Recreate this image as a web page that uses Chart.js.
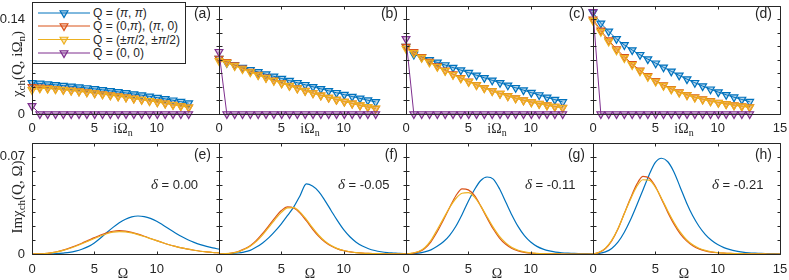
<!DOCTYPE html>
<html>
<head>
<meta charset="utf-8">
<script src="https://cdn.jsdelivr.net/npm/chart.js@4.4.1/dist/chart.umd.min.js"></script>
<style>
  html, body { margin: 0; padding: 0; background: #fff; }
  #wrap { position: relative; width: 789px; height: 280px; overflow: hidden; font-family: "Liberation Sans", Arial, sans-serif; color: #262626; }
  #wrap canvas { position: absolute; }
  .tag { position: absolute; width: 40px; text-align: right; font-size: 14px; line-height: 16px; }
  .delta { position: absolute; font-size: 13px; line-height: 16px; white-space: nowrap; }
  .delta i { font-family: "Liberation Serif", serif; font-size: 15px; }
  .ttl { position: absolute; font-family: "Liberation Serif", "DejaVu Serif", serif; font-size: 14px; line-height: 16px; white-space: nowrap; transform: translate(-50%, -50%); }
  .ttl.rot { font-size: 15px; transform: translate(-50%, -50%) rotate(-90deg); }
  .ttl sub { font-size: 10px; vertical-align: -3px; line-height: 0; }
  .ttl.rot sub { font-size: 11px; }
  #legend { position: absolute; left: 32px; top: 2px; width: 152px; height: 60px; border: 1px solid #262626; background: #fff; }
  #legend svg { position: absolute; left: 0; top: 0; }
  #legend .row { position: absolute; left: 60px; font-size: 12px; line-height: 14px; white-space: nowrap; }
</style>
</head>
<body>
<div id="wrap"></div>
<script>
// Matsubara frequencies i*Omega_n (n = 0..20)
const freqN = [0, 0.628, 1.257, 1.885, 2.513, 3.142, 3.770, 4.398, 5.027, 5.655, 6.283,
               6.912, 7.540, 8.168, 8.796, 9.425, 10.053, 10.681, 11.310, 11.938, 12.566];
// real frequency grid Omega
const omega = [0, 0.5, 1, 1.5, 2, 2.5, 3, 3.5, 4, 4.5, 5, 5.5, 6, 6.5, 7, 7.5, 8, 8.5, 9, 9.5,
               10, 10.5, 11, 11.5, 12, 12.5, 13, 13.5, 14, 14.5, 15];

// top row: chi_ch(Q, iOmega_n)
const chiA_pipi = [0.0460,0.0451,0.0441,0.0431,0.0420,0.0409,0.0397,0.0384,0.0371,0.0357,0.0342,0.0327,0.0311,0.0295,0.0278,0.0260,0.0242,0.0223,0.0203,0.0182,0.0160];
const chiA_0pi  = [0.0400,0.0392,0.0383,0.0373,0.0362,0.0350,0.0337,0.0324,0.0310,0.0295,0.0280,0.0264,0.0248,0.0231,0.0214,0.0196,0.0178,0.0159,0.0140,0.0120,0.0100];
const chiA_half = [0.0355,0.0378,0.0375,0.0367,0.0357,0.0346,0.0334,0.0321,0.0307,0.0292,0.0277,0.0261,0.0245,0.0228,0.0211,0.0193,0.0175,0.0156,0.0137,0.0117,0.0097];
const chiA_00   = [0.0120,0,0,0,0,0,0,0,0,0,0,0,0,0,0,0,0,0,0,0,0];

const chiB_pipi = [0.0820,0.0755,0.0721,0.0687,0.0654,0.0621,0.0588,0.0556,0.0524,0.0493,0.0462,0.0432,0.0402,0.0372,0.0343,0.0314,0.0286,0.0258,0.0231,0.0204,0.0178];
const chiB_0pi  = [0.0820,0.0770,0.0721,0.0674,0.0628,0.0583,0.0540,0.0498,0.0458,0.0419,0.0381,0.0345,0.0310,0.0276,0.0244,0.0213,0.0184,0.0156,0.0129,0.0104,0.0080];
const chiB_half = [0.0785,0.0758,0.0710,0.0664,0.0619,0.0575,0.0533,0.0492,0.0453,0.0415,0.0378,0.0342,0.0308,0.0275,0.0243,0.0213,0.0184,0.0157,0.0131,0.0106,0.0083];
const chiB_00   = [0.0920,0,0,0,0,0,0,0,0,0,0,0,0,0,0,0,0,0,0,0,0];

const chiC_pipi = [0.0996,0.0880,0.0840,0.0801,0.0762,0.0724,0.0686,0.0648,0.0610,0.0572,0.0535,0.0498,0.0461,0.0424,0.0388,0.0352,0.0316,0.0281,0.0246,0.0212,0.0178];
const chiC_0pi  = [0.0996,0.0918,0.0844,0.0774,0.0708,0.0646,0.0588,0.0533,0.0481,0.0432,0.0386,0.0343,0.0303,0.0267,0.0234,0.0204,0.0177,0.0153,0.0131,0.0111,0.0093];
const chiC_half = [0.0965,0.0905,0.0832,0.0763,0.0698,0.0637,0.0580,0.0526,0.0475,0.0427,0.0382,0.0340,0.0300,0.0264,0.0231,0.0201,0.0174,0.0150,0.0128,0.0108,0.0090];
const chiC_00   = [0.1110,0,0,0,0,0,0,0,0,0,0,0,0,0,0,0,0,0,0,0,0];

const chiD_pipi = [0.1500,0.1340,0.1220,0.1110,0.1020,0.0945,0.0875,0.0810,0.0750,0.0690,0.0630,0.0570,0.0515,0.0462,0.0412,0.0366,0.0323,0.0284,0.0248,0.0214,0.0182];
const chiD_0pi  = [0.1400,0.1235,0.1090,0.0960,0.0845,0.0740,0.0645,0.0562,0.0490,0.0427,0.0372,0.0325,0.0284,0.0249,0.0219,0.0193,0.0170,0.0150,0.0132,0.0116,0.0102];
const chiD_half = [0.1380,0.1215,0.1070,0.0942,0.0828,0.0725,0.0632,0.0551,0.0480,0.0418,0.0364,0.0318,0.0278,0.0244,0.0214,0.0188,0.0166,0.0146,0.0129,0.0113,0.0099];
const chiD_00   = [0.1510,0,0,0,0,0,0,0,0,0,0,0,0,0,0,0,0,0,0,0,0];

// bottom row: Im chi_ch(Q, Omega)
const imE_pipi = [0,0,0.0001,0.0001,0.0003,0.0007,0.0012,0.0021,0.0034,0.0053,0.0080,0.0115,0.0155,0.0192,0.0225,0.0251,0.0268,0.0274,0.0270,0.0257,0.0236,0.0209,0.0180,0.0152,0.0126,0.0103,0.0084,0.0068,0.0055,0.0044,0.0035];
const imE_0pi  = [0,0.0001,0.0003,0.0008,0.0016,0.0028,0.0042,0.0059,0.0078,0.0098,0.0118,0.0137,0.0153,0.0164,0.0168,0.0165,0.0156,0.0143,0.0128,0.0112,0.0096,0.0081,0.0067,0.0055,0.0044,0.0035,0.0027,0.0020,0.0015,0.0011,0.0008];
const imE_half = [0,0.0001,0.0003,0.0008,0.0015,0.0026,0.0040,0.0056,0.0074,0.0093,0.0112,0.0130,0.0146,0.0157,0.0161,0.0159,0.0152,0.0140,0.0126,0.0111,0.0096,0.0081,0.0067,0.0055,0.0044,0.0035,0.0027,0.0020,0.0015,0.0011,0.0008];

const imF_pipi = [0,0.0001,0.0003,0.0007,0.0014,0.0026,0.0050,0.0080,0.0118,0.0165,0.0218,0.0278,0.0340,0.0420,0.0505,0.0490,0.0450,0.0385,0.0312,0.0240,0.0175,0.0124,0.0085,0.0057,0.0038,0.0025,0.0016,0.0010,0.0007,0.0004,0.0003];
const imF_0pi  = [0,0.0002,0.0007,0.0016,0.0035,0.0060,0.0098,0.0148,0.0205,0.0263,0.0313,0.0340,0.0332,0.0295,0.0240,0.0180,0.0127,0.0086,0.0057,0.0037,0.0024,0.0015,0.0010,0.0006,0.0004,0.0003,0.0002,0.0001,0.0001,0.0001,0.0001];
const imF_half = [0,0.0002,0.0006,0.0015,0.0032,0.0056,0.0091,0.0138,0.0193,0.0250,0.0300,0.0332,0.0334,0.0302,0.0250,0.0190,0.0135,0.0092,0.0061,0.0039,0.0025,0.0016,0.0010,0.0006,0.0004,0.0003,0.0002,0.0001,0.0001,0.0001,0.0001];

const imG_pipi = [0,0.0002,0.0006,0.0015,0.0030,0.0055,0.0088,0.0135,0.0200,0.0285,0.0380,0.0465,0.0530,0.0555,0.0540,0.0470,0.0375,0.0280,0.0197,0.0132,0.0086,0.0055,0.0035,0.0022,0.0014,0.0009,0.0006,0.0004,0.0003,0.0002,0.0001];
const imG_0pi  = [0,0.0005,0.0015,0.0040,0.0088,0.0160,0.0245,0.0335,0.0420,0.0470,0.0462,0.0420,0.0345,0.0260,0.0180,0.0115,0.0070,0.0040,0.0022,0.0012,0.0006,0.0003,0.0002,0.0001,0.0001,0,0,0,0,0,0];
const imG_half = [0,0.0006,0.0018,0.0045,0.0098,0.0175,0.0255,0.0335,0.0400,0.0438,0.0442,0.0410,0.0345,0.0268,0.0192,0.0127,0.0080,0.0047,0.0027,0.0015,0.0008,0.0004,0.0002,0.0001,0.0001,0,0,0,0,0,0];

const imH_pipi = [0,0.0004,0.0015,0.0040,0.0085,0.0155,0.0245,0.0350,0.0460,0.0570,0.0660,0.0690,0.0665,0.0590,0.0480,0.0370,0.0275,0.0200,0.0142,0.0099,0.0068,0.0046,0.0031,0.0021,0.0014,0.0009,0.0006,0.0004,0.0003,0.0002,0.0001];
const imH_0pi  = [0,0.0012,0.0040,0.0095,0.0180,0.0290,0.0400,0.0500,0.0560,0.0548,0.0488,0.0395,0.0300,0.0215,0.0145,0.0095,0.0060,0.0037,0.0023,0.0014,0.0009,0.0006,0.0004,0.0003,0.0002,0.0001,0.0001,0.0001,0,0,0];
const imH_half = [0,0.0013,0.0042,0.0098,0.0182,0.0288,0.0393,0.0485,0.0535,0.0532,0.0482,0.0400,0.0310,0.0227,0.0157,0.0103,0.0066,0.0041,0.0026,0.0016,0.0010,0.0006,0.0004,0.0003,0.0002,0.0001,0.0001,0.0001,0,0,0];

const panelTags = ['(a)', '(b)', '(c)', '(d)', '(e)', '(f)', '(g)', '(h)'];
const deltaLabels = ['0.00', '-0.05', '-0.11', '-0.21'];
const xTicks = [0, 5, 10, 15];
const topYTicks = [0, 0.02, 0.04, 0.06, 0.08, 0.10, 0.12, 0.14, 0.16];
const botYTicks = [0, 0.01, 0.02, 0.03, 0.04, 0.05, 0.06, 0.07, 0.08];
const topYShown = ['0', '0.14'];
const botYShown = ['0', '0.07'];

const colors = ['#0072BD', '#D95319', '#EDB120', '#7E2F8E'];
const fills  = ['rgba(0,114,189,0.3)', 'rgba(217,83,25,0.3)', 'rgba(237,177,32,0.3)', 'rgba(126,47,142,0.3)'];

const colLeft = [32, 219, 406, 593];
const panelW = 187;
const wrap = document.getElementById('wrap');
const FONT = '"Liberation Sans", Arial, sans-serif';

// box with inward ticks on all four sides
const framePlugin = {
  id: 'frame',
  afterDatasetsDraw(chart, args, opts) {
    const { ctx, chartArea: a, scales: { x, y } } = chart;
    const L = Math.round(a.left) + 0.5, R = Math.round(a.right) + 0.5;
    const T = Math.round(a.top) + 0.5, B = Math.round(a.bottom) + 0.5;
    ctx.save();
    ctx.strokeStyle = '#262626';
    ctx.lineWidth = 1;
    ctx.beginPath();
    ctx.rect(L, T, R - L, B - T);
    xTicks.forEach(v => {
      const px = Math.round(x.getPixelForValue(v)) + 0.5;
      ctx.moveTo(px, B); ctx.lineTo(px, B - 3);
      ctx.moveTo(px, T); ctx.lineTo(px, T + 3);
    });
    opts.yt.forEach(v => {
      const py = Math.round(y.getPixelForValue(v)) + 0.5;
      ctx.moveTo(L, py); ctx.lineTo(L + 3, py);
      ctx.moveTo(R, py); ctx.lineTo(R - 3, py);
    });
    ctx.stroke();
    ctx.restore();
  }
};

function makePanel(col, row, datasets) {
  const top = row === 0;
  const lead = col === 0 ? 32 : 10;
  const w = lead + panelW + 10;
  const h = top ? 140 : 150;
  const cv = document.createElement('canvas');
  cv.width = w; cv.height = h;
  cv.style.width = w + 'px'; cv.style.height = h + 'px';
  cv.style.left = (colLeft[col] - lead) + 'px';
  cv.style.top = (top ? 0 : 130) + 'px';
  wrap.appendChild(cv);
  const yt = top ? topYTicks : botYTicks;
  const shown = top ? topYShown : botYShown;
  new Chart(cv, {
    type: 'line',
    data: { datasets },
    options: {
      responsive: false,
      animation: false,
      devicePixelRatio: 1,
      layout: { padding: { left: 0, right: 10, top: top ? 3 : 13, bottom: 0 } },
      plugins: { legend: { display: false }, tooltip: { enabled: false }, frame: { yt } },
      scales: {
        x: {
          type: 'linear', min: 0, max: 15,
          grid: { display: false, drawTicks: false },
          border: { display: false },
          ticks: {
            stepSize: 5, autoSkip: false, maxRotation: 0,
            padding: top ? 7 : 8, color: '#262626', font: { family: FONT, size: 13 },
            callback: v => (v === 15 && col < 3) ? '' : String(v)
          },
          afterFit: s => { s.height = 26; s.paddingLeft = 0; s.paddingRight = 0; }
        },
        y: {
          min: 0, max: top ? 0.16 : 0.08,
          grid: { display: false, drawTicks: false },
          border: { display: false },
          ticks: {
            display: col === 0,
            stepSize: top ? 0.02 : 0.01, autoSkip: false,
            padding: 7, color: '#262626', font: { family: FONT, size: 13 },
            callback: v => {
              const s = String(+v.toFixed(2));
              return shown.includes(s) ? s : '';
            }
          },
          afterFit: s => { s.width = lead; s.paddingTop = 0; s.paddingBottom = 0; }
        }
      }
    },
    plugins: [framePlugin]
  });
}

function topSets(list) {
  return list.map((vals, k) => ({
    data: freqN.map((x, i) => ({ x, y: vals[i] })),
    borderColor: colors[k], borderWidth: 1, tension: 0,
    pointStyle: 'triangle', pointRotation: 180, pointRadius: 4.5,
    pointBorderWidth: 1.2, pointBorderColor: colors[k], pointBackgroundColor: fills[k],
    clip: false, order: 4 - k
  }));
}

function botSets(list) {
  return list.map((vals, k) => ({
    data: omega.map((x, i) => ({ x, y: vals[i] })),
    borderColor: colors[k], borderWidth: 1.2, pointRadius: 0,
    cubicInterpolationMode: 'monotone', clip: false, order: 4 - k
  }));
}

const topPanels = [
  [chiA_pipi, chiA_0pi, chiA_half, chiA_00],
  [chiB_pipi, chiB_0pi, chiB_half, chiB_00],
  [chiC_pipi, chiC_0pi, chiC_half, chiC_00],
  [chiD_pipi, chiD_0pi, chiD_half, chiD_00]
];
const botPanels = [
  [imE_pipi, imE_0pi, imE_half],
  [imF_pipi, imF_0pi, imF_half],
  [imG_pipi, imG_0pi, imG_half],
  [imH_pipi, imH_0pi, imH_half]
];

topPanels.forEach((p, c) => makePanel(c, 0, topSets(p)));
botPanels.forEach((p, c) => makePanel(c, 1, botSets(p)));

// text overlays
let html = '';
colLeft.forEach((x0, c) => {
  const right = x0 + panelW;
  html += `<div class="tag" style="left:${right - 48}px;top:5px">${panelTags[c]}</div>`;
  html += `<div class="tag" style="left:${right - 48}px;top:146px">${panelTags[c + 4]}</div>`;
  html += `<div class="delta" style="left:${x0 + 119}px;top:176px"><i>δ</i> = ${deltaLabels[c]}</div>`;
  html += `<div class="ttl" style="left:${x0 + 91}px;top:129px">iΩ<sub>n</sub></div>`;
  html += `<div class="ttl" style="left:${x0 + 91}px;top:274px">Ω</div>`;
});
html += `<div class="ttl rot" style="left:17px;top:64px">χ<sub>ch</sub>(Q, iΩ<sub>n</sub>)</div>`;
html += `<div class="ttl rot" style="left:17px;top:197px">Imχ<sub>ch</sub>(Q, Ω)</div>`;

// legend
const legendNames = ['Q = (<i>π</i>, <i>π</i>)', 'Q = (0,<i>π</i>), (<i>π</i>, 0)',
                     'Q = (±<i>π</i>/2, ±<i>π</i>/2)', 'Q = (0, 0)'];
const rowY = [10, 23, 36.5, 50];
let svg = '<svg width="152" height="60">';
legendNames.forEach((n, k) => {
  const y = rowY[k], cx = 31;
  svg += `<line x1="5" y1="${y}" x2="57" y2="${y}" stroke="${colors[k]}" stroke-width="1"/>`;
  svg += `<polygon points="${cx - 3.9},${y - 2.25} ${cx + 3.9},${y - 2.25} ${cx},${y + 4.5}" fill="${fills[k]}" stroke="${colors[k]}" stroke-width="1.2"/>`;
});
svg += '</svg>';
let rows = '';
legendNames.forEach((n, k) => { rows += `<div class="row" style="top:${rowY[k] - 7}px">${n}</div>`; });
html += `<div id="legend">${svg}${rows}</div>`;
wrap.insertAdjacentHTML('beforeend', html);
</script>
</body>
</html>
